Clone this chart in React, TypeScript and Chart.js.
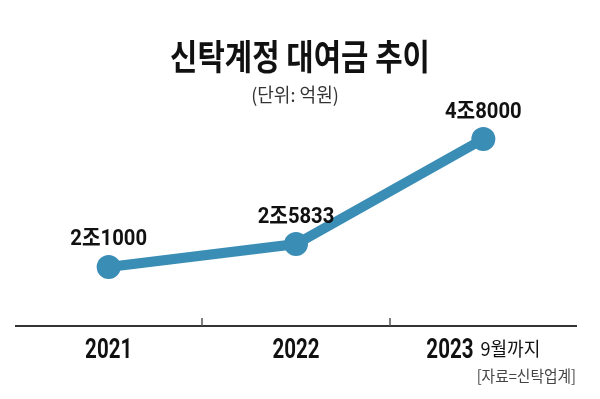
import React, { useEffect, useRef } from "react";
import { Chart, registerables } from "chart.js";

Chart.register(...registerables);

const TITLE = "신탁계정 대여금 추이";
const SUBTITLE = "(단위: 억원)";
const SOURCE = "[자료=신탁업계]";
const categories = ["2021", "2022", "2023"];
const categoryNotes = ["", "", "9월까지"];
const values = [21000, 25833, 48000];
const valueLabels = ["2조1000", "2조5833", "4조8000"];

const FONT = "Roboto, 'Noto Sans CJK KR', sans-serif";
const KFONT = "'Noto Sans CJK KR', sans-serif";
const LINE_COLOR = "#3a8db5";

// draw text horizontally condensed; align: 'left' | 'center' | 'right'
function drawText(ctx: any, text: string, x: number, y: number, font: string, sx: number, align: string) {
  ctx.save();
  ctx.font = font;
  const w = ctx.measureText(text).width * sx;
  let left = x;
  if (align === "center") left = x - w / 2;
  else if (align === "right") left = x - w;
  ctx.translate(left, y);
  ctx.scale(sx, 1);
  ctx.textAlign = "left";
  ctx.textBaseline = "middle";
  ctx.fillText(text, 0, 0);
  ctx.restore();
  return w;
}

function textWidth(ctx: any, text: string, font: string, sx: number) {
  ctx.save();
  ctx.font = font;
  const w = ctx.measureText(text).width * sx;
  ctx.restore();
  return w;
}

const decorPlugin = {
  id: "decor",
  afterDraw(chart: any) {
    const ctx = chart.ctx;
    const area = chart.chartArea;
    const xs = chart.scales.x;
    ctx.save();
    // title
    ctx.fillStyle = "#111";
    drawText(ctx, TITLE, 300, 57, `bold 35px ${KFONT}`, 0.85, "center");
    ctx.fillStyle = "#333";
    drawText(ctx, SUBTITLE, 295, 95, `19px ${KFONT}`, 0.95, "center");

    // axis line
    ctx.strokeStyle = "#333";
    ctx.lineWidth = 2;
    ctx.beginPath();
    ctx.moveTo(area.left, area.bottom);
    ctx.lineTo(area.right, area.bottom);
    ctx.stroke();
    // ticks between categories
    ctx.strokeStyle = "#555";
    ctx.lineWidth = 1.5;
    for (let i = 0; i < categories.length - 1; i++) {
      const x = (xs.getPixelForValue(i) + xs.getPixelForValue(i + 1)) / 2;
      ctx.beginPath();
      ctx.moveTo(Math.round(x), area.bottom - 8);
      ctx.lineTo(Math.round(x), area.bottom);
      ctx.stroke();
    }

    // category labels
    ctx.fillStyle = "#111";
    const catFont = `bold 27px ${FONT}`;
    const noteFont = `19px ${KFONT}`;
    const gap = 7;
    categories.forEach((c, i) => {
      const cx = xs.getPixelForValue(i);
      const note = categoryNotes[i];
      const w1 = textWidth(ctx, c, catFont, 0.76);
      const w2 = note ? textWidth(ctx, note, noteFont, 0.95) + gap : 0;
      const start = cx - (w1 + w2) / 2;
      drawText(ctx, c, start, 351, catFont, 0.76, "left");
      if (note) drawText(ctx, note, start + w1 + gap, 349, noteFont, 0.95, "left");
    });

    // source
    ctx.fillStyle = "#444";
    drawText(ctx, SOURCE, 576, 376, `16px ${KFONT}`, 0.92, "right");

    // value labels
    const meta = chart.getDatasetMeta(0);
    ctx.fillStyle = "#111";
    meta.data.forEach((pt: any, i: number) => {
      drawText(ctx, valueLabels[i], pt.x, pt.y - 27, `bold 22px ${FONT}`, 0.92, "center");
    });
    ctx.restore();
  },
};

export default function App() {
  const ref = useRef<HTMLCanvasElement>(null);
  useEffect(() => {
    document.body.style.margin = "0";
    const chart = new Chart(ref.current!, {
      type: "line",
      data: {
        labels: categories,
        datasets: [
          {
            data: values,
            borderColor: LINE_COLOR,
            backgroundColor: LINE_COLOR,
            borderWidth: 10,
            pointRadius: 12,
            pointHoverRadius: 12,
            pointBorderWidth: 0,
            tension: 0,
            clip: false as any,
          },
        ],
      },
      options: {
        animation: false,
        responsive: false,
        maintainAspectRatio: false,
        layout: { padding: { top: 80, left: 15, right: 23, bottom: 73 } },
        plugins: {
          legend: { display: false },
          tooltip: { enabled: false },
          title: { display: false },
        },
        scales: {
          x: { display: false, offset: true },
          y: { display: false, min: 8550, max: 60450 },
        },
      },
      plugins: [decorPlugin],
    });
    return () => chart.destroy();
  }, []);
  return (
    <div style={{ width: 600, height: 399, background: "#fff" }}>
      <canvas ref={ref} width={600} height={399} />
    </div>
  );
}
